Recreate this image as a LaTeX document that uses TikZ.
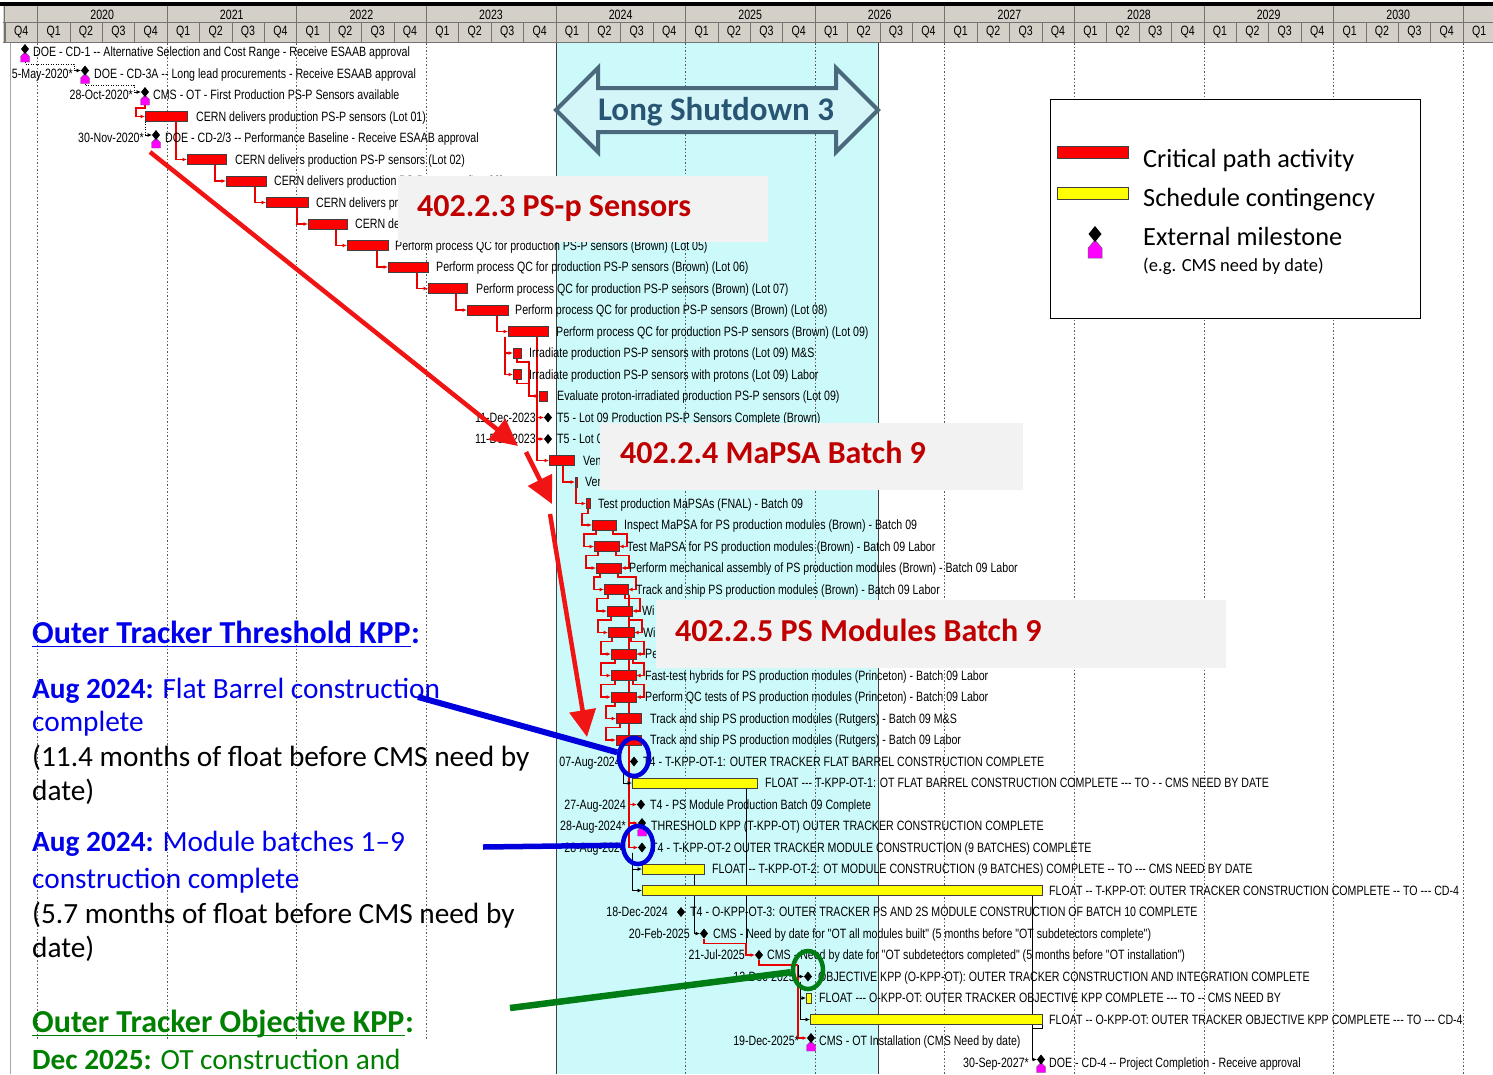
\documentclass[tikz,border=0pt]{standalone}
\usepackage{fontspec}
\setmainfont{Carlito}
\newfontfamily\gf[FakeStretch=0.787,Ligatures=TeXOff]{Liberation Sans}
\usetikzlibrary{arrows.meta,shapes.geometric,calc}

\definecolor{hdrgray}{RGB}{212,208,200}
\definecolor{lscyan}{RGB}{204,250,250}
\definecolor{barred}{RGB}{255,0,0}
\definecolor{baryel}{RGB}{255,255,0}
\definecolor{linkred}{RGB}{235,0,0}
\definecolor{msmag}{RGB}{255,0,255}
\definecolor{tagred}{RGB}{192,0,0}
\definecolor{tagfill}{RGB}{242,242,242}
\definecolor{lsedge}{RGB}{75,105,125}
\definecolor{lsfill}{RGB}{212,246,248}
\definecolor{lstext}{RGB}{40,85,115}
\definecolor{kppblue}{RGB}{0,0,235}
\definecolor{kppgreen}{RGB}{0,128,0}
\definecolor{annred}{RGB}{240,20,20}
\definecolor{annblue}{RGB}{0,0,220}
\definecolor{anngreen}{RGB}{0,125,20}
\definecolor{gridgray}{RGB}{90,90,90}

\newcommand\gantt{\gf\fontsize{13.5}{15}\selectfont}
\newcommand\rowy[1]{52+21.5*#1}
% activity bar: name, row, start x, end x, style
\newcommand\gbar[5]{\node[#5, minimum width={(#4-#3)*1pt}, anchor=west] (#1) at (#3,{\rowy{#2}}) {};}
% plain milestone: name, row, x
\newcommand\gms[3]{\node[msd] (#1) at (#3,{\rowy{#2}}) {};}
% external milestone (diamond over magenta marker): name, row, x
\newcommand\gext[3]{%
  \filldraw[fill=msmag, draw=black!60, line width=0.4pt] ({#3-4.5},{\rowy{#2}+10}) -- ++(9,0) -- ++(0,-5.5) -- ++(-4.5,-4.5) -- ++(-4.5,4.5) -- cycle;
  \coordinate (#1h) at (#3,{\rowy{#2}+10});
  \node[msd] (#1) at (#3,{\rowy{#2}-3}) {};}
% activity text: row, x, text
\newcommand\gtxt[3]{\node[gtext] (t#1) at (#2,{\rowy{#1}+4.5}) {#3};}
% date text right-aligned: row, x end, text
\newcommand\gdate[3]{\node[gdate] (d#1) at (#2,{\rowy{#1}+4.5}) {#3};}
% all bars and milestones of the schedule
\newcommand\schedulemarks{%
\gext{m0}{0}{25}
\gext{m1}{1}{85}
\gext{m2}{2}{145}
\gbar{b3}{3}{145}{187}{cbar}
\gext{m4}{4}{156}
\gbar{b5}{5}{187}{226}{cbar}
\gbar{b6}{6}{226}{266}{cbar}
\gbar{b7}{7}{266}{308}{cbar}
\gbar{b8}{8}{308}{347}{cbar}
\gbar{b9}{9}{347}{388}{cbar}
\gbar{b10}{10}{388}{428}{cbar}
\gbar{b11}{11}{428}{467}{cbar}
\gbar{b12}{12}{467}{508}{cbar}
\gbar{b13}{13}{508}{548}{cbar}
\gbar{b14}{14}{513}{521}{cbar}
\gbar{b15}{15}{513}{521}{cbar}
\gbar{b16}{16}{539}{547}{cbar}
\gms{m17}{17}{548}
\gms{m18}{18}{548}
\gbar{b19}{19}{549}{574}{cbar}
\gbar{b20}{20}{575}{577}{cbar}
\gbar{b21}{21}{586}{590}{cbar}
\gbar{b22}{22}{592}{616}{cbar}
\gbar{b23}{23}{594}{619}{cbar}
\gbar{b24}{24}{596}{621}{cbar}
\gbar{b25}{25}{604}{628}{cbar}
\gbar{b26}{26}{607}{632}{cbar}
\gbar{b27}{27}{608}{634}{cbar}
\gbar{b28}{28}{611}{636}{cbar}
\gbar{b29}{29}{611}{636}{cbar}
\gbar{b30}{30}{611}{636}{cbar}
\gbar{b31}{31}{616}{641}{cbar}
\gbar{b32}{32}{616}{641}{cbar}
\gms{m33}{33}{634}
\gbar{y34}{34}{632}{757}{ybar}
\gms{m35}{35}{641}
\gext{m36}{36}{642}
\gms{m37}{37}{642}
\gbar{y38}{38}{642}{704}{ybar}
\gbar{y39}{39}{642}{1042}{ybar}
\gms{m40}{40}{681}
\gms{m41}{41}{704}
\gms{m42}{42}{759}
\gms{m43}{43}{808}
\gbar{f44}{44}{806}{811}{ybar}
\gbar{y45}{45}{810}{1042}{ybar}
\gext{m46}{46}{811}
\gext{m47}{47}{1041}}

\begin{document}
\begin{tikzpicture}[x=1pt,y=-1pt,
  hdrline/.style={draw=black!55, line width=0.6pt},
  hdr/.style={inner sep=0, font=\gf\fontsize{13.5}{14}\selectfont},
  gridl/.style={draw=gridgray, line width=0.6pt, dash pattern=on 1.5pt off 2pt},
  edge/.style={draw=black!75, line width=0.8pt},
  cbar/.style={rectangle, draw=black!75, fill=barred, line width=0.6pt, inner sep=0, outer sep=0, minimum height=10pt},
  ybar/.style={rectangle, draw=black!75, fill=baryel, line width=0.6pt, inner sep=0, outer sep=0, minimum height=10pt},
  msd/.style={diamond, fill=black, inner sep=0, outer sep=0, minimum width=8pt, minimum height=10pt},
  gtext/.style={anchor=base west, inner sep=0, font=\gantt},
  gdate/.style={anchor=base east, inner sep=0, font=\gantt},
  crit/.style={draw=linkred, line width=1.1pt, -{Latex[length=4.5pt,width=4pt]}},
  critl/.style={draw=linkred, line width=1.1pt},
  lnk/.style={draw=black, line width=0.8pt, -{Latex[length=4.5pt,width=4pt]}},
  lnkl/.style={draw=black, line width=0.8pt},
  dlnk/.style={draw=black, line width=0.7pt, dash pattern=on 1pt off 1.5pt},
  tagbox/.style={rectangle, fill=tagfill, inner sep=0, anchor=north west},
  tagtext/.style={anchor=base west, inner sep=0, text=tagred, font=\bfseries\fontsize{32}{34}\selectfont},
  lt/.style={anchor=base west, inner sep=0, font=\fontsize{29.3}{30}\selectfont},
  ltb/.style={anchor=base west, inner sep=0, font=\bfseries\fontsize{32}{33}\selectfont},
  annarrow/.style={draw=annred, line width=4.5pt, -{Triangle[length=27pt,width=26pt]}},
  annring/.style={ellipse, line width=4.5pt, inner sep=0, minimum width=30pt, minimum height=38pt},
  legtext/.style={anchor=base west, inner sep=0, font=\fontsize{26.3}{28}\selectfont}
]
\useasboundingbox (0,0) rectangle (1493,1074);
\fill[white] (0,0) rectangle (1493,1074);

% ---------------- time scale header ----------------
\fill[hdrgray] (3,6) rectangle (1493,42);
\fill[black] (0,2) rectangle (1493,6);
\draw[hdrline] (3,22) -- (1493,22);
\draw[hdrline] (3,42) -- (1493,42);
\draw[hdrline] (4,6) -- (4,42);
\foreach \k in {0,...,46} \draw[hdrline] ({5+32.4*\k},22) -- ({5+32.4*\k},42);
\foreach \n in {0,...,11} \draw[hdrline] ({37.4+129.6*\n},6) -- ({37.4+129.6*\n},22);
\foreach \n [evaluate=\n as \yr using {int(2020+\n)}] in {0,...,10}
  \node[hdr] (yr\n) at ({102.2+129.6*\n},14.5) {\yr};
\foreach \k [evaluate=\k as \q using {int(mod(\k+3,4)+1)}] in {0,...,45}
  \node[hdr] (q\k) at ({21.2+32.4*\k},32.5) {Q\q};

% ---------------- shutdown period and grid ----------------
\fill[lscyan] (556,42.5) rectangle (878,1074);
\draw[black!35] (10,42.5) -- (10,1074);
\foreach \n in {0,...,3} \draw[gridl] ({37.4+129.6*\n},43) -- ({37.4+129.6*\n},1040);
\foreach \n in {5,...,11} \draw[gridl] ({37.4+129.6*\n},43) -- ({37.4+129.6*\n},1074);
\draw[edge] (556,42.5) -- (556,1074);
\draw[edge] (878,42.5) -- (878,1074);

% ---------------- logic links (laid out under the bars) ----------------
\begin{scope}[opacity=0]
\schedulemarks
\end{scope}

\draw[dlnk] (m0h) -- ++(0,2) -| ([xshift=-7pt]m1.west);
\draw[lnk] ([xshift=-7pt]m1.west) -- (m1.west);
\draw[dlnk] (m1h) -- ++(0,2) -| ([xshift=-7pt]m2.west);
\draw[lnk] ([xshift=-7pt]m2.west) -- (m2.west);
\draw[dlnk] (b3.south west) |- ([xshift=-7pt]m4.west);
\draw[lnk] ([xshift=-7pt]m4.west) -- (m4.west);
\draw[crit] (m2h) -- ++(0,3) -| ([xshift=-9pt]b3.west) -- (b3.west);
\foreach \p/\k in {3/5,5/6,6/7,7/8,8/9,9/10,10/11,11/12,12/13}
  \draw[crit] ([xshift=-11pt]b\p.south east) |- (b\k.west);
\draw[crit] ([xshift=-3pt]b13.south west) |- (b14.west);
\draw[crit] ([xshift=-3pt]b13.south west) |- (b15.west);
\draw[crit] (b14.south) -- ++(0,4) -| ([xshift=-10pt]b16.west) -- (b16.west);
\draw[critl] (b15.south) -- ++(0,4) -| ([xshift=-10pt]b16.west);
\draw[crit] ([xshift=-11pt]b13.south east) |- (m17.west);
\draw[crit] ([xshift=-11pt]b13.south east) |- (m18.west);
\draw[crit] ([xshift=-11pt]b13.south east) |- (b19.west);
\draw[crit] ([xshift=-11pt]b19.south east) |- (b20.west);
\draw[crit] ([xshift=-1pt]b20.south east) |- (b21.west);
\draw[crit] (b21.south) -- ++(0,5) -| ([xshift=-10pt]b22.west) -- (b22.west);
\foreach \p/\k in {22/23,23/24,24/25,25/26,26/27,27/28,28/29,29/30,30/31,31/32}
  \draw[crit] ([xshift=4pt]b\p.south west) -- ++(0,4) -| ([xshift=-10pt]b\k.west) -- (b\k.west);
\foreach \p/\k in {22/23,23/24,24/25,25/26,26/27,27/28,28/29,29/30}
  \draw[crit] ([xshift=-3pt]b\p.south east) -- ++(0,4) -| ([xshift=8pt]b\k.east) -- (b\k.east);
\coordinate (spine) at ([xshift=1pt]b25.south east);
\draw[critl] (spine) |- (m33.west);
\draw[crit] (spine) |- (m35.west);
\draw[crit] (spine) |- (m36.west);
\draw[crit] (spine) |- (m37.west);
\draw[lnk] ([xshift=-11pt]m33.south) |- (y34.west);
\draw[lnk] ([xshift=-10pt]m37.south) |- (y38.west);
\draw[lnk] ([xshift=-10pt]m37.south) |- (y39.west);
\draw[lnk] ([xshift=-10pt]y38.south east) |- (m41.west);
\draw[lnk] ([xshift=-10pt]y39.south east) |- (m47.west);
\coordinate (j41) at (746,{\rowy{41}+10});
\draw[lnkl] ([xshift=-11pt]y34.south east) |- (j41);
\draw[crit] (m41.south) |- (j41) |- (m42.west);
\coordinate (j42) at (798,{\rowy{42}+10});
\draw[critl] (m42.south) |- (j42);
\draw[crit] (j42) |- (m46.west);
\draw[lnk] (j42) |- (m43.west);
\draw[lnk] ([xshift=-8pt]m43.south) |- (f44.west);
\draw[lnk] ([xshift=-8pt]m43.south) |- (y45.west);
\draw[lnkl] (y45.south east) -- ++(0,4) -- ++(-10,0);

% ---------------- bars and milestones ----------------
\schedulemarks

% ---------------- activity texts ----------------
\gtxt{0}{33}{DOE - CD-1 -- Alternative Selection and Cost Range - Receive ESAAB approval}
\gdate{1}{73}{5-May-2020*}
\gtxt{1}{94}{DOE - CD-3A -- Long lead procurements - Receive ESAAB approval}
\gdate{2}{133}{28-Oct-2020*}
\gtxt{2}{153}{CMS - OT - First Production PS-P Sensors available}
\gtxt{3}{196}{CERN delivers production PS-P sensors (Lot 01)}
\gdate{4}{144}{30-Nov-2020*}
\gtxt{4}{165}{DOE - CD-2/3 -- Performance Baseline - Receive ESAAB approval}
\gtxt{5}{235}{CERN delivers production PS-P sensors (Lot 02)}
\gtxt{6}{274}{CERN delivers production PS-P sensors (Lot 03)}
\gtxt{7}{316}{CERN delivers pr}
\gtxt{8}{355}{CERN de}
\gtxt{9}{395}{Perform process QC for production PS-P sensors (Brown) (Lot 05)}
\gtxt{10}{436}{Perform process QC for production PS-P sensors (Brown) (Lot 06)}
\gtxt{11}{476}{Perform process QC for production PS-P sensors (Brown) (Lot 07)}
\gtxt{12}{515}{Perform process QC for production PS-P sensors (Brown) (Lot 08)}
\gtxt{13}{556}{Perform process QC for production PS-P sensors (Brown) (Lot 09)}
\gtxt{14}{529}{Irradiate production PS-P sensors with protons (Lot 09) M\&S}
\gtxt{15}{529}{Irradiate production PS-P sensors with protons (Lot 09) Labor}
\gtxt{16}{557}{Evaluate proton-irradiated production PS-P sensors (Lot 09)}
\gdate{17}{536}{11-Dec-2023}
\gtxt{17}{557}{T5 - Lot 09 Production PS-P Sensors Complete (Brown)}
\gdate{18}{536}{11-Dec-2023}
\gtxt{18}{557}{T5 - Lot 0}
\gtxt{19}{583}{Ven}
\gtxt{20}{585}{Ven}
\gtxt{21}{598}{Test production MaPSAs (FNAL) - Batch 09}
\gtxt{22}{624}{Inspect MaPSA for PS production modules (Brown) - Batch 09}
\gtxt{23}{627}{Test MaPSA for PS production modules (Brown) - Batch 09 Labor}
\gtxt{24}{629}{Perform mechanical assembly of PS production modules (Brown) - Batch 09 Labor}
\gtxt{25}{636}{Track and ship PS production modules (Brown) - Batch 09 Labor}
\gtxt{26}{642}{Wi}
\gtxt{27}{643}{Wi}
\gtxt{28}{645}{Pe}
\gtxt{29}{645}{Fast-test hybrids for PS production modules (Princeton) - Batch 09 Labor}
\gtxt{30}{645}{Perform QC tests of PS production modules (Princeton) - Batch 09 Labor}
\gtxt{31}{650}{Track and ship PS production modules (Rutgers) - Batch 09 M\&S}
\gtxt{32}{650}{Track and ship PS production modules (Rutgers) - Batch 09 Labor}
\gdate{33}{621}{07-Aug-2024}
\gtxt{33}{643}{T4 - T-KPP-OT-1: OUTER TRACKER FLAT BARREL CONSTRUCTION COMPLETE}
\gtxt{34}{765}{FLOAT --- T-KPP-OT-1: OT FLAT BARREL CONSTRUCTION COMPLETE --- TO - - CMS NEED BY DATE}
\gdate{35}{626}{27-Aug-2024}
\gtxt{35}{650}{T4 - PS Module Production Batch 09 Complete}
\gdate{36}{626}{28-Aug-2024*}
\gtxt{36}{651}{THRESHOLD KPP (T-KPP-OT) OUTER TRACKER CONSTRUCTION COMPLETE}
\gdate{37}{626}{28-Aug-2024}
\gtxt{37}{651}{T4 - T-KPP-OT-2 OUTER TRACKER MODULE CONSTRUCTION (9 BATCHES) COMPLETE}
\gtxt{38}{712}{FLOAT -- T-KPP-OT-2: OT MODULE CONSTRUCTION (9 BATCHES) COMPLETE -- TO --- CMS NEED BY DATE}
\gtxt{39}{1049}{FLOAT -- T-KPP-OT: OUTER TRACKER CONSTRUCTION COMPLETE -- TO --- CD-4}
\gdate{40}{668}{18-Dec-2024}
\gtxt{40}{690}{T4 - O-KPP-OT-3: OUTER TRACKER PS AND 2S MODULE CONSTRUCTION OF BATCH 10 COMPLETE}
\gdate{41}{690}{20-Feb-2025}
\gtxt{41}{713}{CMS - Need by date for "OT all modules built" (5 months before "OT subdetectors complete")}
\gdate{42}{745}{21-Jul-2025}
\gtxt{42}{767}{CMS - Need by date for "OT subdetectors completed" (5 months before "OT installation")}
\gdate{43}{795}{12-Dec-2025}
\gtxt{43}{818}{OBJECTIVE KPP (O-KPP-OT): OUTER TRACKER CONSTRUCTION AND INTEGRATION COMPLETE}
\gtxt{44}{819}{FLOAT --- O-KPP-OT: OUTER TRACKER OBJECTIVE KPP COMPLETE --- TO -- CMS NEED BY}
\gtxt{45}{1049}{FLOAT -- O-KPP-OT: OUTER TRACKER OBJECTIVE KPP COMPLETE --- TO --- CD-4}
\gdate{46}{799}{19-Dec-2025*}
\gtxt{46}{819}{CMS - OT Installation (CMS Need by date)}
\gdate{47}{1029}{30-Sep-2027*}
\gtxt{47}{1049}{DOE - CD-4 -- Project Completion - Receive approval}

% ---------------- Long Shutdown 3 banner ----------------
\filldraw[fill=lsfill, draw=lsedge, line width=4pt, line join=miter]
  (556,110) -- (598,68) -- (598,88) -- (836,88) -- (836,68) -- (878,110)
  -- (836,152) -- (836,132) -- (598,132) -- (598,152) -- cycle;
\node[inner sep=0, text=lstext, font=\bfseries\fontsize{33}{35}\selectfont] (ls3) at (716,112) {Long Shutdown 3};

% ---------------- legend ----------------
\node[draw=black, line width=1pt, fill=white, inner sep=0, minimum width=370pt, minimum height=219pt, anchor=north west] (leg) at (1050,99) {};
\node[cbar, minimum width=71pt, minimum height=12pt, anchor=west] (legred) at (1057,152) {};
\node[ybar, minimum width=71pt, minimum height=12pt, anchor=west] (legyel) at (1057,193) {};
\filldraw[fill=msmag, draw=black!60, line width=0.5pt] (1088,258) -- (1102,258) -- (1102,248) -- (1095,240) -- (1088,248) -- cycle;
\node[msd, minimum width=13pt, minimum height=16pt] (legms) at (1095,234) {};
\node[legtext] (legt1) at (1143,167) {Critical path activity};
\node[legtext] (legt2) at (1143,206) {Schedule contingency};
\node[legtext] (legt3) at (1143,245) {External milestone};
\node[anchor=base west, inner sep=0, font=\fontsize{18.5}{20}\selectfont] (legt4) at (1143,271) {(e.g. CMS need by date)};

% ---------------- WBS tags ----------------
\node[tagbox, minimum width=370pt, minimum height=66pt] (tag1) at (398,176) {};
\node[tagtext] (tag1t) at (417,216) {402.2.3 PS-p Sensors};
\node[tagbox, minimum width=423pt, minimum height=67pt] (tag2) at (600,423) {};
\node[tagtext] (tag2t) at (620,463) {402.2.4 MaPSA Batch 9};
\node[tagbox, minimum width=570pt, minimum height=68pt] (tag3) at (656,600) {};
\node[tagtext] (tag3t) at (675,641) {402.2.5 PS Modules Batch 9};

% ---------------- pointer arrows ----------------
\coordinate (ra1s) at (150,152);
\coordinate (ra1e) at (518,446);
\coordinate (ra2s) at (526,452);
\coordinate (ra2e) at (552,504);
\coordinate (ra3s) at (550,514);
\coordinate (ra3e) at (587,737);
\draw[annarrow] (ra1s) -- (ra1e);
\draw[annarrow] (ra2s) -- (ra2e);
\draw[annarrow] (ra3s) -- (ra3e);

% ---------------- KPP notes ----------------
\fill[white] (11,1040) rectangle (555,1074);
\node[ltb, text=kppblue] (h1) at (32,643) {Outer Tracker Threshold KPP};
\node[ltb, text=kppblue] (h1c) at (h1.base east) {:};
\draw[kppblue, line width=1.6pt] ([yshift=-3.5pt]h1.base west) -- ([yshift=-3.5pt]h1.base east);
\node[lt, text=kppblue] (a1) at (32,698) {\textbf{Aug 2024:} Flat Barrel construction};
\node[lt, text=kppblue] (a1b) at (32,731) {complete};
\node[lt] (a1c) at (32,766) {(11.4 months of float before CMS need by};
\node[lt] (a1d) at (32,800) {date)};
\node[lt, text=kppblue] (a2) at (32,851) {\textbf{Aug 2024:} Module batches 1–9};
\node[lt, text=kppblue] (a2b) at (32,888) {construction complete};
\node[lt] (a2c) at (32,923) {(5.7 months of float before CMS need by};
\node[lt] (a2d) at (32,957) {date)};
\node[ltb, text=kppgreen] (h2) at (32,1032) {Outer Tracker Objective KPP};
\node[ltb, text=kppgreen] (h2c) at (h2.base east) {:};
\draw[kppgreen, line width=1.6pt] ([yshift=-3.5pt]h2.base west) -- ([yshift=-3.5pt]h2.base east);
\node[lt, text=kppgreen] (a3) at (32,1069) {\textbf{Dec 2025:} OT construction and};

% ---------------- callout rings ----------------
\node[annring, draw=annblue] (ring1) at (634,757) {};
\node[annring, draw=annblue] (ring2) at (638,845) {};
\node[annring, draw=anngreen] (ring3) at (808,970) {};
\coordinate (bl1) at (418,697);
\coordinate (bl2) at (483,847);
\coordinate (gl1) at (510,1008);
\draw[annblue, line width=6pt] (bl1) -- (ring1);
\draw[annblue, line width=5.5pt] (bl2) -- (ring2);
\draw[anngreen, line width=6.5pt] (gl1) -- (ring3);
\end{tikzpicture}
\end{document}
